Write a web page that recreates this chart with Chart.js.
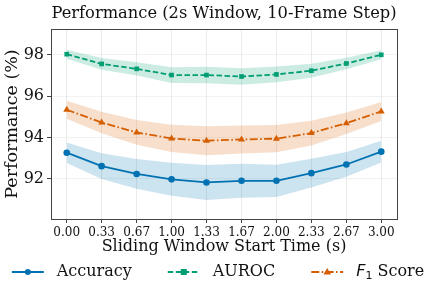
<!DOCTYPE html>
<html>
<head>
<meta charset="utf-8">
<script src="https://cdn.jsdelivr.net/npm/chart.js@4.4.0/dist/chart.umd.min.js"></script>
<style>
  html, body { margin: 0; padding: 0; background: #fff; }
  #wrap { width: 436px; height: 293px; }
</style>
</head>
<body>
<div id="wrap"><canvas id="chart" width="436" height="293"></canvas></div>
<script>
// sliding window start times
const xVals = [0, 0.333, 0.667, 1, 1.333, 1.667, 2, 2.333, 2.667, 3];
const xLabels = ['0.00', '0.33', '0.67', '1.00', '1.33', '1.67', '2.00', '2.33', '2.67', '3.00'];
const yTicks = [92, 94, 96, 98];

// mean values
const accuracy = [93.26, 92.61, 92.23, 91.97, 91.82, 91.90, 91.90, 92.27, 92.69, 93.31];
const auroc    = [98.03, 97.56, 97.32, 97.02, 97.02, 96.95, 97.05, 97.23, 97.58, 98.00];
const f1       = [95.34, 94.72, 94.24, 93.95, 93.84, 93.90, 93.94, 94.21, 94.69, 95.26];

// std (shaded band half-width)
const accStd   = [0.50, 0.62, 0.72, 0.80, 0.85, 0.82, 0.78, 0.70, 0.60, 0.53];
const aurocStd = [0.22, 0.28, 0.32, 0.38, 0.40, 0.40, 0.38, 0.34, 0.28, 0.22];
const f1Std    = [0.44, 0.52, 0.60, 0.66, 0.70, 0.68, 0.66, 0.60, 0.52, 0.46];

const titleText = 'Performance (2s Window, 10-Frame Step)';

const BLUE = '#0072B2', GREEN = '#009E73', ORANGE = '#D55E00';
const SERIF = "'DejaVu Serif', serif";

function pts(arr) { return arr.map((v, i) => ({ x: xVals[i], y: v })); }
function band(mean, sd, sign) { return mean.map((v, i) => ({ x: xVals[i], y: v + sign * sd[i] })); }

function lineSet(label, data, color, style, dash) {
    return {
        label: label, data: pts(data), borderColor: color, backgroundColor: color,
        borderWidth: 1.8, borderDash: dash, pointStyle: style,
        pointRadius: style === 'triangle' ? 4 : 3.3, pointBorderWidth: 0,
        fill: false, order: 0
    };
}
function bandSets(mean, sd, rgba) {
    return [
        { data: band(mean, sd, -1), borderWidth: 0, pointRadius: 0, fill: false, order: 1 },
        { data: band(mean, sd, 1), borderWidth: 0, pointRadius: 0, fill: '-1', backgroundColor: rgba, order: 1 }
    ];
}

const legendItems = [
    { label: 'Accuracy', color: BLUE, style: 'circle', dash: [] },
    { label: 'AUROC', color: GREEN, style: 'rect', dash: [5.5, 2.5] },
    { label: 'F1', color: ORANGE, style: 'triangle', dash: [8, 2.4, 1.6, 2.4] }
];

function drawMarker(ctx, style, x, y, color) {
    ctx.fillStyle = color;
    ctx.beginPath();
    if (style === 'circle') ctx.arc(x, y, 3, 0, Math.PI * 2);
    else if (style === 'rect') ctx.rect(x - 3, y - 3, 6, 6);
    else { ctx.moveTo(x, y - 4); ctx.lineTo(x + 3.8, y + 2.6); ctx.lineTo(x - 3.8, y + 2.6); ctx.closePath(); }
    ctx.fill();
}

const framePlugin = {
    id: 'frame',
    afterDraw(chart) {
        const { ctx, chartArea: a } = chart;
        ctx.save();
        ctx.strokeStyle = '#444';
        ctx.lineWidth = 1;
        ctx.strokeRect(Math.round(a.left) + 0.5, Math.round(a.top) + 0.5,
            Math.round(a.right - a.left), Math.round(a.bottom - a.top));

        // title centred over the axes
        ctx.fillStyle = '#111';
        ctx.font = '16.3px ' + SERIF;
        ctx.textAlign = 'center';
        ctx.textBaseline = 'middle';
        ctx.fillText(titleText, (a.left + a.right) / 2, 14);

        // legend underneath
        const y = 272;
        const handle = 32, gap = 13, colGap = 36;
        const big = '16px ' + SERIF;
        const widths = legendItems.map(it => {
            if (it.label === 'F1') {
                ctx.font = 'italic 16px "DejaVu Sans"';
                let w = ctx.measureText('F').width;
                ctx.font = '11px "DejaVu Sans"';
                w += ctx.measureText('1').width;
                ctx.font = big;
                return w + ctx.measureText(' Score').width;
            }
            ctx.font = big;
            return ctx.measureText(it.label).width;
        });
        let total = 0;
        widths.forEach((w, i) => { total += handle + gap + w + (i < widths.length - 1 ? colGap : 0); });
        let x = 218 - total / 2;
        ctx.textAlign = 'left';
        legendItems.forEach((it, i) => {
            ctx.strokeStyle = it.color;
            ctx.lineWidth = 1.8;
            ctx.setLineDash(it.dash);
            ctx.beginPath(); ctx.moveTo(x, y); ctx.lineTo(x + handle, y); ctx.stroke();
            ctx.setLineDash([]);
            drawMarker(ctx, it.style, x + handle / 2, y, it.color);
            let tx = x + handle + gap;
            ctx.fillStyle = '#111';
            if (it.label === 'F1') {
                ctx.font = 'italic 16px "DejaVu Sans"';
                ctx.fillText('F', tx, y);
                tx += ctx.measureText('F').width;
                ctx.font = '11px "DejaVu Sans"';
                ctx.fillText('1', tx, y + 4);
                tx += ctx.measureText('1').width;
                ctx.font = big;
                ctx.fillText(' Score', tx, y);
            } else {
                ctx.font = big;
                ctx.fillText(it.label, tx, y);
            }
            x += handle + gap + widths[i] + colGap;
        });
        ctx.restore();
    }
};

new Chart(document.getElementById('chart'), {
    type: 'line',
    data: {
        datasets: [
            lineSet('Accuracy', accuracy, BLUE, 'circle', []),
            lineSet('AUROC', auroc, GREEN, 'rect', [5.5, 2.5]),
            lineSet('F1 Score', f1, ORANGE, 'triangle', [8, 2.4, 1.6, 2.4]),
            ...bandSets(accuracy, accStd, 'rgba(0,114,178,0.2)'),
            ...bandSets(auroc, aurocStd, 'rgba(0,158,115,0.2)'),
            ...bandSets(f1, f1Std, 'rgba(213,94,0,0.2)')
        ]
    },
    options: {
        responsive: false,
        animation: false,
        layout: { padding: { left: 4, right: 39, top: 29, bottom: 38 } },
        plugins: {
            legend: { display: false },
            tooltip: { enabled: false },
            title: { display: false }
        },
        scales: {
            x: {
                type: 'linear', min: -0.15, max: 3.15,
                afterBuildTicks: s => { s.ticks = xVals.map(v => ({ value: v })); },
                afterFit: s => { s.height = 36; },
                ticks: {
                    autoSkip: false, maxRotation: 0, padding: 3, color: '#111',
                    font: { family: SERIF, size: 12 },
                    callback: (v, i) => xLabels[i]
                },
                grid: { color: 'rgba(0,0,0,0.08)', tickColor: '#444', tickLength: 4 },
                border: { color: '#444' },
                title: {
                    display: true, text: 'Sliding Window Start Time (s)', color: '#111',
                    font: { family: SERIF, size: 16, lineHeight: 1 }, padding: { top: 0, bottom: 0 }
                }
            },
            y: {
                min: 90.05, max: 99.25,
                afterBuildTicks: s => { s.ticks = yTicks.map(v => ({ value: v })); },
                afterFit: s => { s.width = 47; },
                ticks: { padding: 3, color: '#111', font: { family: SERIF, size: 16 } },
                grid: { color: 'rgba(0,0,0,0.05)', tickColor: '#444', tickLength: 4 },
                border: { color: '#444' },
                title: {
                    display: true, text: 'Performance (%)', color: '#111',
                    font: { family: SERIF, size: 17.5, lineHeight: 1 }, padding: { top: 0, bottom: 0 }
                }
            }
        }
    },
    plugins: [framePlugin]
});
</script>
</body>
</html>
